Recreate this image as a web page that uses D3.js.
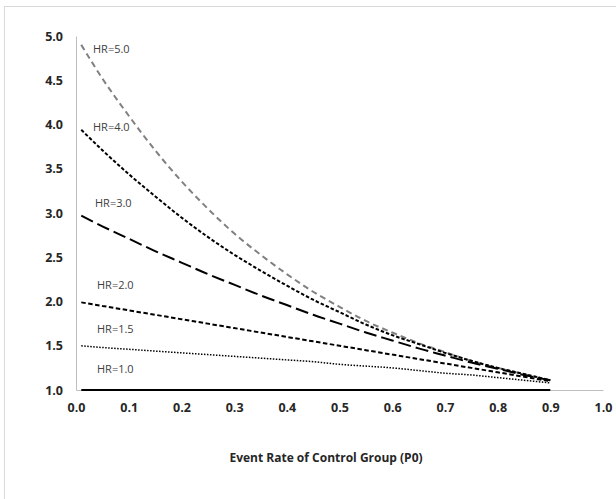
<!DOCTYPE html>
<html>
<head>
<meta charset="utf-8">
<script src="https://cdn.jsdelivr.net/npm/d3@7"></script>
<style>
  body { margin: 0; background: #fff; }
  svg text { font-family: "Open Sans", "Liberation Sans", sans-serif; }
</style>
</head>
<body>
<script>
// event rate of control group
const p0 = [0.01, 0.05, 0.1, 0.15, 0.2, 0.25, 0.3, 0.35, 0.4, 0.45, 0.5, 0.55, 0.6, 0.65, 0.7, 0.75, 0.8, 0.85, 0.9];

const hr50 = [4.90, 4.52, 4.10, 3.71, 3.36, 3.05, 2.77, 2.53, 2.31, 2.11, 1.94, 1.78, 1.65, 1.53, 1.43, 1.33, 1.25, 1.18, 1.11];
const hr40 = [3.94, 3.71, 3.44, 3.19, 2.95, 2.73, 2.53, 2.35, 2.18, 2.02, 1.88, 1.74, 1.62, 1.52, 1.42, 1.33, 1.25, 1.18, 1.11];
const hr30 = [2.97, 2.85, 2.71, 2.57, 2.44, 2.31, 2.19, 2.07, 1.96, 1.85, 1.75, 1.65, 1.56, 1.47, 1.39, 1.31, 1.24, 1.17, 1.11];
const hr20 = [1.99, 1.95, 1.90, 1.85, 1.80, 1.75, 1.70, 1.65, 1.60, 1.55, 1.50, 1.45, 1.40, 1.35, 1.30, 1.25, 1.20, 1.15, 1.10];
const hr15 = [1.50, 1.48, 1.46, 1.44, 1.42, 1.40, 1.38, 1.36, 1.34, 1.32, 1.29, 1.27, 1.25, 1.22, 1.19, 1.17, 1.14, 1.11, 1.08];
const hr10 = [1.00, 1.00, 1.00, 1.00, 1.00, 1.00, 1.00, 1.00, 1.00, 1.00, 1.00, 1.00, 1.00, 1.00, 1.00, 1.00, 1.00, 1.00, 1.00];

const xTicks = [0, 0.1, 0.2, 0.3, 0.4, 0.5, 0.6, 0.7, 0.8, 0.9, 1.0];
const yTicks = [1.0, 1.5, 2.0, 2.5, 3.0, 3.5, 4.0, 4.5, 5.0];

const series = [
  { name: "HR=5.0", values: hr50, color: "#808080", width: 2, dash: "6,4", lx: 93, ly: 53 },
  { name: "HR=4.0", values: hr40, color: "#000", width: 2, dash: "3.5,2", lx: 93, ly: 131 },
  { name: "HR=3.0", values: hr30, color: "#000", width: 2, dash: "13,5", lx: 95, ly: 207 },
  { name: "HR=2.0", values: hr20, color: "#000", width: 2, dash: "4.5,2.5", lx: 97, ly: 289 },
  { name: "HR=1.5", values: hr15, color: "#000", width: 1.5, dash: "1.5,1.5", lx: 97, ly: 333 },
  { name: "HR=1.0", values: hr10, color: "#000", width: 2, dash: null, lx: 97, ly: 373 }
];

const w = 616;
const h = 499;

const svg = d3.select("body")
  .append("svg")
  .attr("width", w)
  .attr("height", h);

// outer frame
svg.append("rect")
  .attr("x", 4.5)
  .attr("y", 6.5)
  .attr("width", 620)
  .attr("height", 500)
  .attr("fill", "none")
  .attr("stroke", "#d9d9d9");

const xScale = d3.scaleLinear()
  .domain([0, 1])
  .range([76, 603]);

const yScale = d3.scaleLinear()
  .domain([1, 5])
  .range([390, 36]);

const xAxis = d3.axisBottom(xScale)
  .tickValues(xTicks)
  .tickSize(0)
  .tickPadding(13)
  .tickFormat(d3.format(".1f"));

const yAxis = d3.axisLeft(yScale)
  .tickValues(yTicks)
  .tickSize(0)
  .tickPadding(13)
  .tickFormat(d3.format(".1f"));

const gx = svg.append("g")
  .attr("transform", "translate(0," + yScale(1) + ")")
  .call(xAxis);

const gy = svg.append("g")
  .attr("transform", "translate(" + xScale(0) + ",0)")
  .call(yAxis);

[gx, gy].forEach(g => {
  g.select(".domain").attr("stroke", "#bfbfbf").attr("stroke-width", 1);
  g.selectAll("text")
    .attr("font-size", 12.5)
    .attr("font-weight", "bold")
    .attr("fill", "#262626")
    .style("font-family", "\"Open Sans\", sans-serif");
});

const line = d3.line()
  .x((d, i) => xScale(p0[i]))
  .y(d => yScale(d))
  .curve(d3.curveMonotoneX);

series.forEach(s => {
  svg.append("path")
    .datum(s.values)
    .attr("d", line)
    .attr("fill", "none")
    .attr("stroke", s.color)
    .attr("stroke-width", s.width)
    .attr("stroke-dasharray", s.dash);

  svg.append("text")
    .attr("x", s.lx)
    .attr("y", s.ly)
    .attr("font-size", 11)
    .attr("fill", "#404040")
    .text(s.name);
});

svg.append("text")
  .attr("x", 326)
  .attr("y", 462)
  .attr("text-anchor", "middle")
  .attr("font-size", 12)
  .attr("font-weight", "bold")
  .attr("fill", "#262626")
  .text("Event Rate of Control Group (P0)");
</script>
</body>
</html>
